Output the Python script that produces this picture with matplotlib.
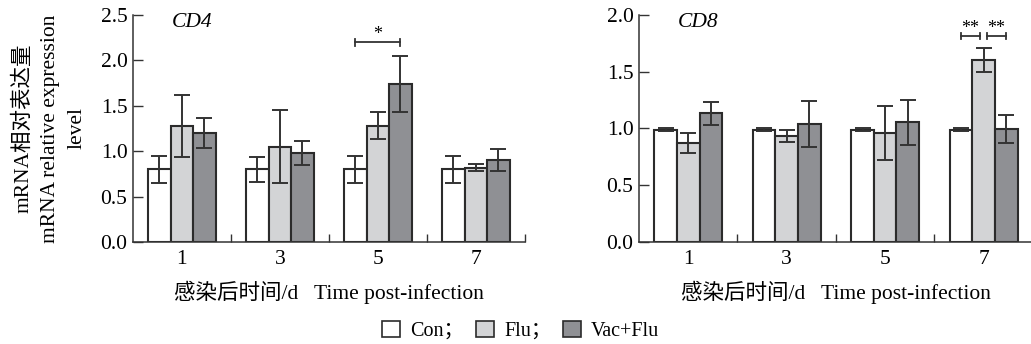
import matplotlib
matplotlib.use("Agg")
import matplotlib.pyplot as plt
from matplotlib.patches import Patch
import numpy as np

plt.rcParams["font.family"] = ["Liberation Serif", "Noto Sans CJK SC"]

# ── data ──────────────────────────────────────────────────────────────────────
days = ["1", "3", "5", "7"]
groups = ["Con", "Flu", "Vac+Flu"]

cd4_mean = {
    "Con":     [0.80, 0.80, 0.80, 0.80],
    "Flu":     [1.28, 1.05, 1.28, 0.82],
    "Vac+Flu": [1.20, 0.98, 1.74, 0.90],
}
cd4_err = {
    "Con":     [0.15, 0.14, 0.15, 0.15],
    "Flu":     [0.34, 0.40, 0.15, 0.04],
    "Vac+Flu": [0.16, 0.13, 0.31, 0.12],
}
cd8_mean = {
    "Con":     [0.99, 0.99, 0.99, 0.99],
    "Flu":     [0.87, 0.935, 0.96, 1.60],
    "Vac+Flu": [1.135, 1.04, 1.055, 0.995],
}
cd8_err = {
    "Con":     [0.01, 0.01, 0.01, 0.01],
    "Flu":     [0.09, 0.05, 0.24, 0.105],
    "Vac+Flu": [0.10, 0.20, 0.20, 0.12],
}

colors = {"Con": "#ffffff", "Flu": "#d3d4d6", "Vac+Flu": "#8f9094"}
EDGE = "#2b2b2b"
BAR_W = 0.23
FS = 15.5


def draw_panel(ax, means, errs, ymax, yticks, title):
    x = np.arange(len(days))
    for i, g in enumerate(groups):
        ax.bar(x + (i - 1) * BAR_W, means[g], BAR_W, color=colors[g],
               edgecolor=EDGE, linewidth=1.5, zorder=2)
        ax.errorbar(x + (i - 1) * BAR_W, means[g], yerr=errs[g], fmt="none",
                    ecolor="#333333", elinewidth=1.4, capsize=6, capthick=1.4,
                    zorder=3)
    ax.set_xlim(-0.5, 3.5)
    ax.set_ylim(0, ymax)
    ax.set_yticks(yticks)
    ax.set_yticklabels([f"{v:.1f}" for v in yticks], fontsize=FS)
    ax.set_xticks(x)
    ax.set_xticklabels(days, fontsize=FS)
    ax.set_xticks(x + 0.5, minor=True)
    ax.tick_params(axis="x", which="major", length=0, pad=6)
    ax.tick_params(axis="x", which="minor", direction="in", length=6,
                   width=1.0, color="#333333")
    ax.tick_params(axis="y", direction="in", length=7, width=1.0,
                   color="#333333", pad=4)
    for s in ("top", "right"):
        ax.spines[s].set_visible(False)
    for s in ("left", "bottom"):
        ax.spines[s].set_linewidth(1.1)
        ax.spines[s].set_color("#333333")
    ax.set_xlabel("感染后时间/d   Time post-infection", fontsize=FS, labelpad=8)
    ax.text(0.098, 0.965, title, transform=ax.transAxes, fontsize=FS,
            style="italic", va="center", ha="left")


def bracket(ax, x0, x1, y, h, label):
    ax.plot([x0, x1], [y, y], color="#333333", lw=1.3, zorder=4)
    ax.plot([x0, x0], [y - h, y + h], color="#333333", lw=1.3, zorder=4)
    ax.plot([x1, x1], [y - h, y + h], color="#333333", lw=1.3, zorder=4)
    ax.text((x0 + x1) / 2, y + 2.2 * h, label, ha="center", va="center",
            fontsize=13)


fig = plt.figure(figsize=(10.31, 3.44), dpi=100)
ax1 = fig.add_axes([0.129, 0.2965, 0.380, 0.66])
ax2 = fig.add_axes([0.6198, 0.2965, 0.382, 0.66])
for ax in (ax1, ax2):
    ax.patch.set_alpha(0)

draw_panel(ax1, cd4_mean, cd4_err, 2.5, [0.0, 0.5, 1.0, 1.5, 2.0, 2.5], "CD4")
draw_panel(ax2, cd8_mean, cd8_err, 2.0, [0.0, 0.5, 1.0, 1.5, 2.0], "CD8")

ax1.set_ylabel("mRNA相对表达量\nmRNA relative expression\nlevel",
               fontsize=FS, labelpad=10, linespacing=1.55)

bracket(ax1, 2 - BAR_W, 2 + BAR_W, 2.20, 0.04, "*")
bracket(ax2, 3 - BAR_W, 3 - 0.04, 1.815, 0.03, "**")
bracket(ax2, 3 + 0.03, 3 + BAR_W, 1.815, 0.03, "**")

handles = [Patch(facecolor=colors[g], edgecolor=EDGE, linewidth=1.2) for g in groups]
fig.legend(handles, ["Con；", "Flu；", "Vac+Flu"], loc="center",
           bbox_to_anchor=(0.505, 0.038), ncol=3, frameon=False, fontsize=14.5,
           handlelength=0.9, handleheight=0.9, handletextpad=0.5,
           columnspacing=0.6)

fig.savefig("out.png", dpi=100)
